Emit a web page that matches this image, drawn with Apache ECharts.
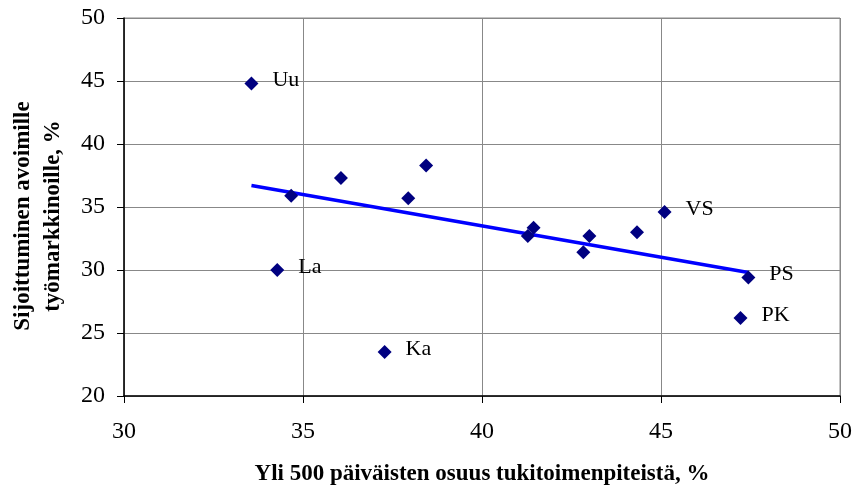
<!DOCTYPE html>
<html>
<head>
<meta charset="utf-8">
<script src="https://cdn.jsdelivr.net/npm/echarts@6/dist/echarts.min.js"></script>
<style>
html,body{margin:0;padding:0;background:#fff;}
#chart{width:855px;height:491px;}
</style>
</head>
<body>
<div id="chart"></div>
<script>
// Data
var pointNames = ['Uu', '', '', '', '', 'La', 'Ka', '', '', '', '', '', 'VS', 'PS', 'PK'];
var xValues = [33.56, 34.67, 36.06, 37.94, 38.44, 34.28, 37.28, 41.28, 41.44, 42.83, 43.0, 44.33, 45.1, 47.44, 47.22];
var yValues = [44.8, 35.9, 37.3, 35.7, 38.3, 30.0, 23.5, 32.7, 33.35, 31.4, 32.7, 33.0, 34.6, 29.4, 26.2];
var trendX = [33.56, 47.44];
var trendY = [36.7, 29.8];
var xTicks = [30, 35, 40, 45, 50];
var yTicks = [20, 25, 30, 35, 40, 45, 50];
var xTitle = 'Yli 500 päiväisten osuus tukitoimenpiteistä, %';
var yTitle = 'Sijoittuminen avoimille\ntyömarkkinoille, %';

var scatterData = xValues.map(function (x, i) { return { value: [x, yValues[i]], name: pointNames[i] }; });
var trendData = trendX.map(function (x, i) { return [x, trendY[i]]; });

var serif = '"Liberation Serif", "Times New Roman", serif';
var chart = echarts.init(document.getElementById('chart'), null, { renderer: 'canvas' });
chart.setOption({
  animation: false,
  backgroundColor: '#ffffff',
  grid: { left: 122, right: 13, top: 18, bottom: 94, show: true, borderColor: '#888888', borderWidth: 1 },
  xAxis: {
    type: 'value', min: xTicks[0], max: xTicks[xTicks.length - 1], interval: 5,
    name: xTitle, nameLocation: 'middle', nameGap: 67,
    nameTextStyle: { fontFamily: serif, fontWeight: 'bold', fontSize: 23, color: '#000' },
    axisLine: { show: true, onZero: false, lineStyle: { color: '#000', width: 1.5 } },
    axisTick: { show: true, inside: false, length: 7, lineStyle: { color: '#000' } },
    axisLabel: { margin: 24, fontFamily: serif, fontSize: 24, color: '#000' },
    splitLine: { show: true, lineStyle: { color: '#888888', width: 1 } }
  },
  yAxis: {
    type: 'value', min: yTicks[0], max: yTicks[yTicks.length - 1], interval: 5,
    name: yTitle, nameLocation: 'middle', nameGap: 56, nameRotate: 90,
    nameTextStyle: { fontFamily: serif, fontWeight: 'bold', fontSize: 23, lineHeight: 30, color: '#000', align: 'center', padding: [0, 18, 0, 0] },
    axisLine: { show: true, onZero: false, lineStyle: { color: '#000', width: 1.5 } },
    axisTick: { show: true, inside: false, length: 7, lineStyle: { color: '#000' } },
    axisLabel: { margin: 19, fontFamily: serif, fontSize: 24, color: '#000' },
    splitLine: { show: true, lineStyle: { color: '#888888', width: 1 } }
  },
  series: [
    {
      type: 'line', data: trendData, symbol: 'none', z: 2,
      lineStyle: { color: '#0000ff', width: 3.5 }
    },
    {
      type: 'scatter', data: scatterData, symbol: 'diamond', symbolSize: 14, z: 3,
      itemStyle: { color: '#000080', opacity: 1 },
      label: {
        show: true, position: 'right', distance: 14, offset: [0, -3],
        formatter: function (p) { return p.name; },
        fontFamily: serif, fontSize: 22, color: '#000'
      }
    }
  ]
});
</script>
</body>
</html>
